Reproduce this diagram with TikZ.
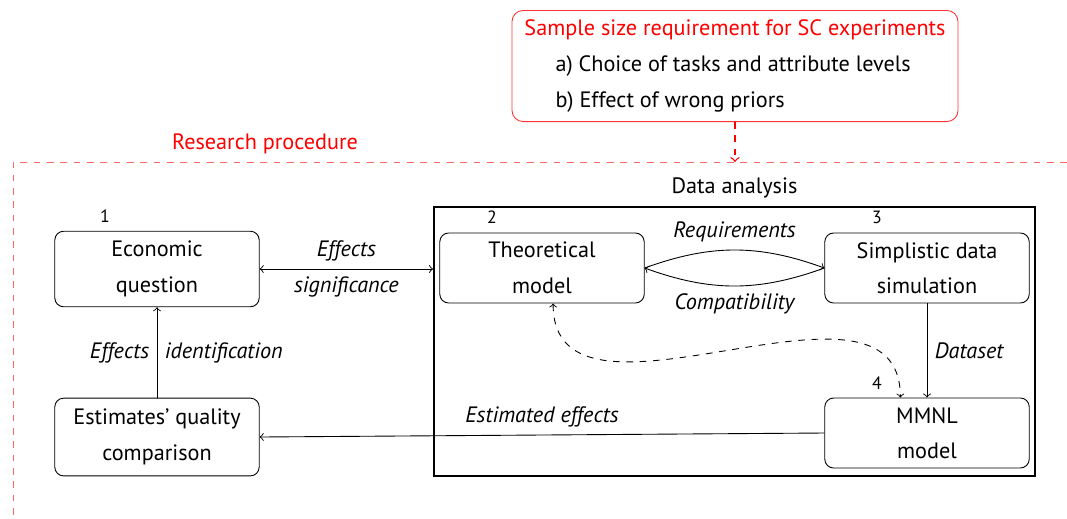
\documentclass[tikz,border=0pt]{standalone}
\usepackage{fontspec}
\setmainfont{PT Sans}
\usetikzlibrary{positioning}

\begin{document}
\begin{tikzpicture}[x=0.45pt,y=-0.45pt,
		box/.style={draw, rounded corners=4pt, minimum width=92pt, align=center, font=\fontsize{10}{16}\selectfont},
		num/.style={font=\footnotesize},
		lbl/.style={font=\itshape}]
			\useasboundingbox (0,0) rectangle (1067,518);
			% top box
			\node[draw=red!80, rounded corners=5pt, minimum width=200.7pt, minimum height=50pt, align=left, font=\fontsize{10}{16}\selectfont] (req) at (735,66)
				{\textcolor{red}{Sample size requirement for SC experiments}\\ \hspace*{14pt}a) Choice of tasks and attribute levels\\ \hspace*{14pt}b) Effect of wrong priors};
			\coordinate (ftop) at (735,162);
			\draw[red!60, dashed] (1067,162) -- (13,162) -- (13,518);
			\draw[red, dashed, semithick, ->] (req) -- (ftop);
			\node[red] (rp) at (265,144) {Research procedure};
			% data analysis frame
			\node[draw, thick, minimum width=270.5pt, minimum height=121pt] (da) at (734.5,341.5) {};
			\node[above=0pt of da] (dalbl) {Data analysis};
			% steps
			\node[box, minimum height=34pt] (econ) at (157,269) {Economic\\question};
			\node[box, minimum height=35pt] (est) at (157,437) {Estimates' quality\\comparison};
			\node[box, minimum height=31.5pt] (theo) at (542,268) {Theoretical\\model};
			\node[box, minimum height=31.5pt] (simp) at (927,268) {Simplistic data\\simulation};
			\node[box, minimum height=31.5pt] (mmnl) at (927,433) {MMNL\\model};
			\node[num] (n1) at (105,216) {1};
			\node[num] (n2) at (492,217) {2};
			\node[num] (n3) at (877,217) {3};
			\node[num] (n4) at (877,383) {4};
			% connections
			\draw[<->] (econ.east) -- (econ.east -| da.west) node[midway, above, lbl] {Effects} node[midway, below, lbl] {significance};
			\draw[->] (theo.east) to[bend left=20] node[above, lbl] {Requirements} (simp.west);
			\draw[->] (simp.west) to[bend left=20] node[below, lbl] {Compatibility} (theo.east);
			\draw[->] (simp) -- (mmnl) node[midway, right, lbl] {Dataset};
			\draw[<->, dashed] ([xshift=5pt]theo.south) .. controls +(0,150) and +(0,-150) .. ([xshift=-12pt]mmnl.north);
			\draw[->] (mmnl.west) -- (est.east) node[midway, above, lbl] {Estimated effects};
			\draw[->] (est) -- (econ) node[midway, left, lbl] {Effects} node[midway, right, lbl] {identification};
		\end{tikzpicture}
\end{document}
